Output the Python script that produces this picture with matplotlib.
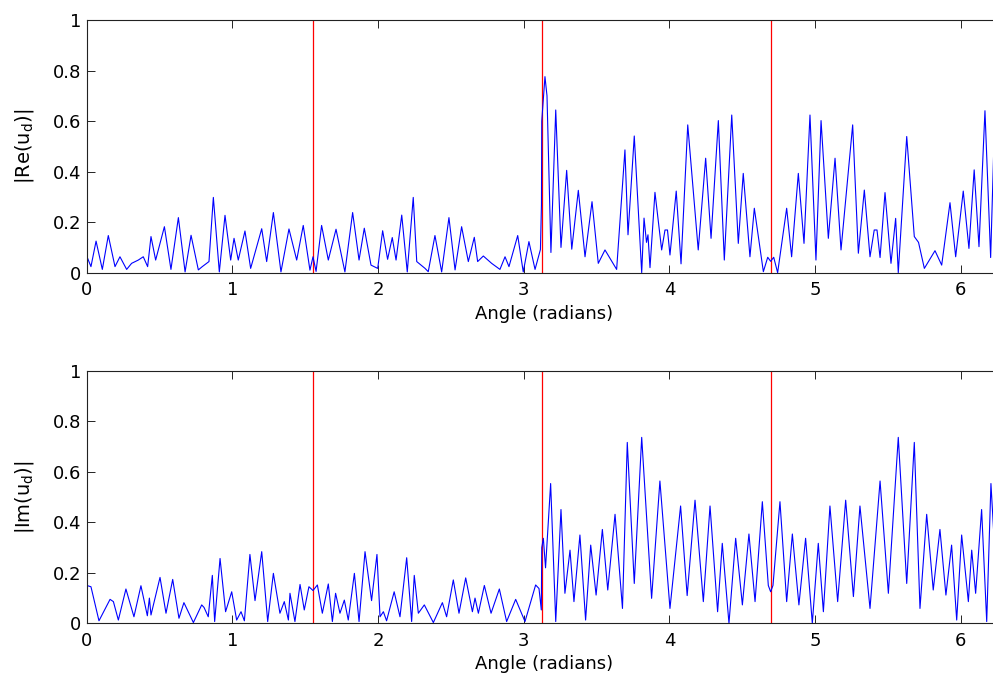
import numpy as np
import matplotlib
matplotlib.use("Agg")
import matplotlib.pyplot as plt

# ---------------- data ----------------
red_lines = [1.552, 3.124, 4.696]

re_angle = [0.000, 0.007, 0.030, 0.065, 0.108, 0.149, 0.195, 0.229, 0.275, 0.309, 0.355, 0.389,
            0.419, 0.442, 0.474, 0.534, 0.579, 0.630, 0.676, 0.717, 0.767, 0.794, 0.840,
            0.870, 0.911, 0.950, 0.989, 1.012, 1.041, 1.087, 1.126, 1.202, 1.236, 1.282,
            1.334, 1.389, 1.442, 1.487, 1.533, 1.554, 1.575, 1.613, 1.659, 1.712, 1.773,
            1.826, 1.870, 1.906, 1.952, 1.998, 2.032, 2.066, 2.098, 2.124, 2.163, 2.201,
            2.242, 2.266, 2.323, 2.345, 2.391, 2.437, 2.487, 2.529, 2.574, 2.620, 2.661,
            2.684, 2.723, 2.780, 2.837, 2.872, 2.899, 2.959, 2.997, 3.036, 3.078, 3.115,
            3.122, 3.124, 3.146, 3.160, 3.187, 3.220, 3.256, 3.295, 3.330, 3.375, 3.421,
            3.469, 3.512, 3.558, 3.638, 3.695, 3.716, 3.759, 3.810, 3.826, 3.843, 3.853,
            3.867, 3.901, 3.947, 3.970, 3.987, 4.004, 4.047, 4.080, 4.126, 4.198, 4.249,
            4.286, 4.336, 4.377, 4.428, 4.473, 4.507, 4.553, 4.583, 4.645, 4.675, 4.695,
            4.716, 4.743, 4.805, 4.839, 4.885, 4.924, 4.965, 5.006, 5.041, 5.091, 5.137,
            5.178, 5.258, 5.297, 5.338, 5.377, 5.406, 5.425, 5.446, 5.480, 5.521, 5.553,
            5.571, 5.629, 5.681, 5.710, 5.750, 5.823, 5.869, 5.926, 5.965, 6.017, 6.056,
            6.092, 6.125, 6.166, 6.205, 6.228, 6.244, 6.260, 6.283]
re_value = [0.057, 0.057, 0.024, 0.125, 0.013, 0.147, 0.024, 0.063, 0.013, 0.037, 0.050, 0.063,
            0.024, 0.143, 0.050, 0.182, 0.013, 0.218, 0.003, 0.148, 0.011, 0.024, 0.044,
            0.298, 0.003, 0.227, 0.050, 0.136, 0.050, 0.165, 0.017, 0.174, 0.044, 0.238,
            0.003, 0.173, 0.050, 0.187, 0.010, 0.063, 0.005, 0.187, 0.050, 0.172, 0.003,
            0.238, 0.050, 0.176, 0.030, 0.017, 0.166, 0.053, 0.139, 0.050, 0.228, 0.003,
            0.298, 0.044, 0.017, 0.004, 0.147, 0.003, 0.218, 0.011, 0.182, 0.044, 0.140,
            0.044, 0.066, 0.037, 0.013, 0.063, 0.024, 0.147, 0.003, 0.123, 0.013, 0.092,
            0.270, 0.600, 0.776, 0.700, 0.080, 0.644, 0.100, 0.405, 0.093, 0.326, 0.063,
            0.281, 0.037, 0.090, 0.013, 0.486, 0.150, 0.541, 0.000, 0.216, 0.120, 0.150,
            0.020, 0.318, 0.090, 0.169, 0.169, 0.070, 0.323, 0.035, 0.585, 0.090, 0.453,
            0.136, 0.602, 0.050, 0.624, 0.116, 0.393, 0.063, 0.255, 0.004, 0.061, 0.045,
            0.061, 0.000, 0.255, 0.063, 0.393, 0.116, 0.624, 0.050, 0.602, 0.136, 0.453,
            0.090, 0.585, 0.077, 0.327, 0.063, 0.169, 0.169, 0.060, 0.317, 0.037, 0.215,
            0.000, 0.539, 0.143, 0.120, 0.017, 0.087, 0.030, 0.277, 0.063, 0.323, 0.096,
            0.407, 0.103, 0.641, 0.060, 0.520, 0.776, 0.500, 0.200]

im_angle = [0.000, 0.007, 0.030, 0.085, 0.161, 0.184, 0.218, 0.270, 0.325, 0.373, 0.417, 0.431,
            0.442, 0.504, 0.545, 0.591, 0.634, 0.668, 0.733, 0.790, 0.806, 0.835, 0.863,
            0.879, 0.916, 0.954, 0.996, 1.030, 1.060, 1.083, 1.121, 1.156, 1.202, 1.243,
            1.282, 1.327, 1.357, 1.385, 1.396, 1.430, 1.465, 1.494, 1.526, 1.554, 1.584,
            1.618, 1.659, 1.687, 1.709, 1.739, 1.769, 1.796, 1.838, 1.870, 1.911, 1.956,
            1.993, 2.014, 2.037, 2.059, 2.111, 2.151, 2.197, 2.231, 2.249, 2.277, 2.318,
            2.380, 2.442, 2.471, 2.517, 2.556, 2.602, 2.648, 2.666, 2.689, 2.730, 2.776,
            2.833, 2.883, 2.945, 3.009, 3.082, 3.105, 3.121, 3.124, 3.135, 3.150, 3.185,
            3.220, 3.256, 3.283, 3.318, 3.345, 3.386, 3.425, 3.460, 3.497, 3.540, 3.577,
            3.627, 3.678, 3.711, 3.759, 3.810, 3.878, 3.935, 4.004, 4.077, 4.122, 4.176,
            4.233, 4.279, 4.331, 4.363, 4.409, 4.455, 4.501, 4.546, 4.588, 4.638, 4.679,
            4.695, 4.711, 4.759, 4.805, 4.844, 4.889, 4.935, 4.981, 5.022, 5.057, 5.102,
            5.155, 5.210, 5.263, 5.308, 5.377, 5.446, 5.503, 5.571, 5.629, 5.681, 5.720,
            5.766, 5.811, 5.857, 5.898, 5.937, 5.972, 6.006, 6.052, 6.075, 6.102, 6.143,
            6.178, 6.207, 6.240, 6.255, 6.270, 6.283]
im_value = [0.139, 0.149, 0.145, 0.010, 0.095, 0.086, 0.013, 0.136, 0.026, 0.149, 0.030, 0.100,
            0.033, 0.182, 0.040, 0.174, 0.020, 0.082, 0.003, 0.073, 0.063, 0.026, 0.190,
            0.007, 0.257, 0.046, 0.125, 0.013, 0.046, 0.010, 0.273, 0.090, 0.284, 0.007,
            0.198, 0.040, 0.086, 0.013, 0.119, 0.007, 0.154, 0.053, 0.145, 0.130, 0.152,
            0.040, 0.156, 0.007, 0.119, 0.040, 0.092, 0.013, 0.198, 0.007, 0.284, 0.090,
            0.273, 0.026, 0.046, 0.010, 0.125, 0.026, 0.260, 0.007, 0.190, 0.040, 0.073,
            0.003, 0.082, 0.026, 0.172, 0.040, 0.180, 0.046, 0.100, 0.040, 0.150, 0.040,
            0.136, 0.007, 0.095, 0.007, 0.152, 0.138, 0.053, 0.300, 0.337, 0.220, 0.554,
            0.007, 0.451, 0.119, 0.290, 0.086, 0.350, 0.013, 0.310, 0.112, 0.372, 0.132,
            0.432, 0.059, 0.717, 0.158, 0.737, 0.099, 0.564, 0.059, 0.465, 0.110, 0.488,
            0.086, 0.465, 0.046, 0.317, 0.000, 0.337, 0.073, 0.354, 0.086, 0.482, 0.150,
            0.125, 0.150, 0.482, 0.086, 0.354, 0.073, 0.337, 0.000, 0.317, 0.046, 0.465,
            0.086, 0.488, 0.106, 0.465, 0.059, 0.564, 0.119, 0.737, 0.158, 0.717, 0.059,
            0.432, 0.132, 0.372, 0.112, 0.310, 0.013, 0.350, 0.086, 0.290, 0.119, 0.451,
            0.007, 0.554, 0.220, 0.337, 0.100, 0.050]

x_ticks = [0, 1, 2, 3, 4, 5, 6]
y_ticks = [0, 0.2, 0.4, 0.6, 0.8, 1]
y_tick_labels = ["0", "0.2", "0.4", "0.6", "0.8", "1"]
x_label = "Angle (radians)"
y_labels = [r"|Re(u$_{\mathrm{d}}$)|", r"|Im(u$_{\mathrm{d}}$)|"]

# ---------------- figure ----------------
plt.rcParams["font.family"] = ["DejaVu Sans"]
plt.rcParams["mathtext.fontset"] = "dejavusans"

fig = plt.figure(figsize=(9.93, 6.79), dpi=100)
fig.patch.set_facecolor("white")

axes_pos = [[0.0872, 0.5984, 0.9219, 0.3721],
            [0.0872, 0.0820, 0.9219, 0.3716]]
series = [(re_angle, re_value), (im_angle, im_value)]

for pos, (xs, ys), ylab in zip(axes_pos, series, y_labels):
    ax = fig.add_axes(pos)
    for xr in red_lines:
        ax.axvline(xr, color="#ff0000", lw=0.9, zorder=1)
    ax.plot(xs, ys, color="#0000ff", lw=0.8, zorder=2)
    ax.set_xlim(0, 2 * np.pi)
    ax.set_ylim(0, 1)
    ax.set_xticks(x_ticks)
    ax.set_xticklabels([str(t) for t in x_ticks])
    ax.set_yticks(y_ticks)
    ax.set_yticklabels(y_tick_labels)
    ax.tick_params(direction="in", length=6, width=0.6, top=True, right=True,
                   labelsize=13, colors="black")
    ax.tick_params(axis="x", pad=6)
    ax.tick_params(axis="y", pad=4)
    for sp in ax.spines.values():
        sp.set_linewidth(0.8)
        sp.set_color("#222222")
    ax.set_xlabel(x_label, fontsize=13, labelpad=4)
    ax.set_ylabel(ylab, fontsize=14)
    ax.yaxis.set_label_coords(-0.055, 0.5)

fig.savefig("out.png", dpi=100)
